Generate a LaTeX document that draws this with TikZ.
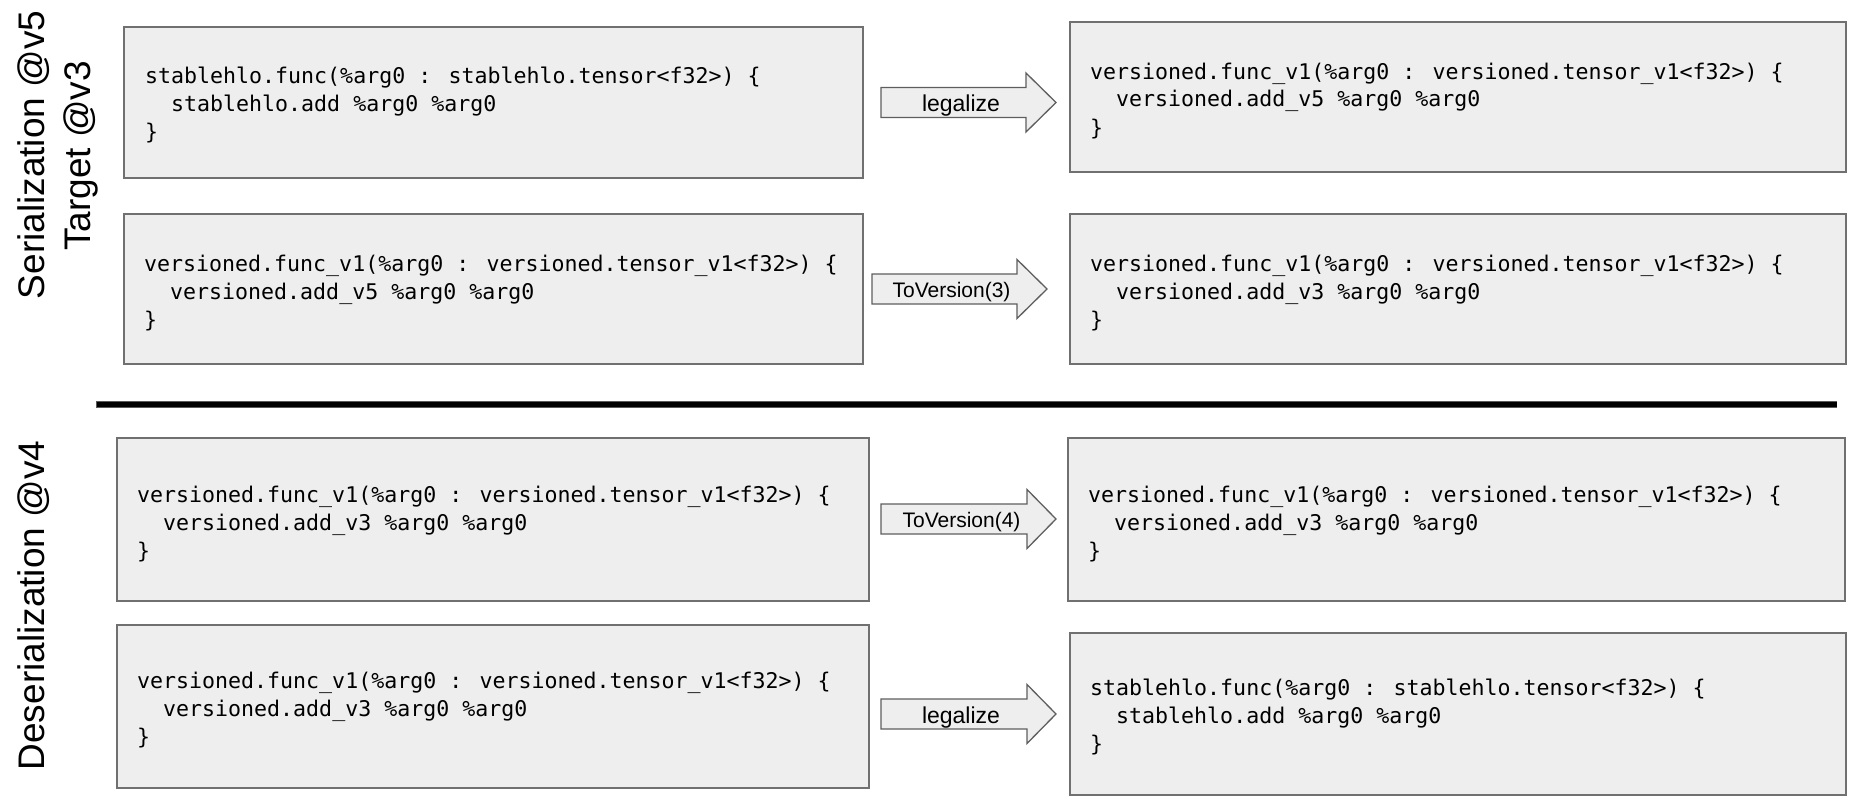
\documentclass[tikz,border=0pt]{standalone}
\usepackage{fontspec}
\setmainfont{Liberation Sans}
\newfontfamily\codefont{DejaVu Sans Mono}

\definecolor{boxfill}{HTML}{EEEEEE}
\definecolor{boxline}{HTML}{707070}
\definecolor{arrowline}{HTML}{5E5E5E}
\definecolor{rulegray}{HTML}{5A5A5A}

% three lines of code, first baseline at the node's base anchor
\newcommand\codelines[3]{\begin{tabular}[t]{@{}l@{}}#1\\#2\\#3\end{tabular}}
\newcommand\ind{\phantom{xx}}

\tikzset{
  codebox/.style={draw=boxline, fill=boxfill, line width=2pt},
  codetext/.style={anchor=base west, inner sep=0pt,
    font=\codefont\fontsize{21.6}{28}\selectfont},
  blockarrow/.style={draw=arrowline, fill=boxfill, line width=1.3pt, line join=miter},
  arrowlabel/.style={anchor=base, inner sep=0pt},
  sidelabel/.style={rotate=90, anchor=base, inner sep=0pt,
    font=\fontsize{37}{44}\selectfont},
}

% block arrow: shaft left x, head base x, tip x, centre y
\newcommand\blockarr[4]{%
  \draw[blockarrow] (#1,#4-15) -- (#2,#4-15) -- (#2,#4-29.5) -- (#3,#4)
    -- (#2,#4+29.5) -- (#2,#4+15) -- (#1,#4+15) -- cycle;}

\begin{document}
\begin{tikzpicture}[x=1pt, y=-1pt]
\useasboundingbox (0,0) rectangle (1858,808);

% side titles
\node[sidelabel] (sertitle) at (44.5,155) {Serialization @v5};
\node[sidelabel] (tgttitle) at (90,156) {Target @v3};
\node[sidelabel] (destitle) at (44.5,605.5) {Deserialization @v4};

% code boxes
\draw[codebox] (124,27) rectangle (863,178);
\draw[codebox] (1070,22) rectangle (1846,172);
\draw[codebox] (124,214) rectangle (863,364);
\draw[codebox] (1070,214) rectangle (1846,364);
\draw[codebox] (117,438) rectangle (869,601);
\draw[codebox] (1068,438) rectangle (1845,601);
\draw[codebox] (117,625) rectangle (869,788);
\draw[codebox] (1070,633) rectangle (1846,795);

% code
\node[codetext] (codeA) at (145,84) {\codelines
  {stablehlo.func(\%arg0 : stablehlo.tensor<f32>) \{}
  {\ind stablehlo.add \%arg0 \%arg0}
  {\}}};
\node[codetext] (codeB) at (1090,79) {\codelines
  {versioned.func\_v1(\%arg0 : versioned.tensor\_v1<f32>) \{}
  {\ind versioned.add\_v5 \%arg0 \%arg0}
  {\}}};
\node[codetext] (codeC) at (144,271) {\codelines
  {versioned.func\_v1(\%arg0 : versioned.tensor\_v1<f32>) \{}
  {\ind versioned.add\_v5 \%arg0 \%arg0}
  {\}}};
\node[codetext] (codeD) at (1090,271) {\codelines
  {versioned.func\_v1(\%arg0 : versioned.tensor\_v1<f32>) \{}
  {\ind versioned.add\_v3 \%arg0 \%arg0}
  {\}}};
\node[codetext] (codeE) at (137,502) {\codelines
  {versioned.func\_v1(\%arg0 : versioned.tensor\_v1<f32>) \{}
  {\ind versioned.add\_v3 \%arg0 \%arg0}
  {\}}};
\node[codetext] (codeF) at (1088,502) {\codelines
  {versioned.func\_v1(\%arg0 : versioned.tensor\_v1<f32>) \{}
  {\ind versioned.add\_v3 \%arg0 \%arg0}
  {\}}};
\node[codetext] (codeG) at (137,688) {\codelines
  {versioned.func\_v1(\%arg0 : versioned.tensor\_v1<f32>) \{}
  {\ind versioned.add\_v3 \%arg0 \%arg0}
  {\}}};
\node[codetext] (codeH) at (1090,695.5) {\codelines
  {stablehlo.func(\%arg0 : stablehlo.tensor<f32>) \{}
  {\ind stablehlo.add \%arg0 \%arg0}
  {\}}};

% block arrows with their pass names
\blockarr{881}{1026}{1056}{102.5}
\node[arrowlabel, font=\fontsize{23}{27}\selectfont] (legal1) at (961,111.5) {legalize};
\blockarr{872}{1017}{1047}{289}
\node[arrowlabel, font=\fontsize{21}{25}\selectfont] (tover3) at (951.5,297) {ToVersion(3)};
\blockarr{881}{1027}{1056}{519}
\node[arrowlabel, font=\fontsize{21}{25}\selectfont] (tover4) at (961.5,527) {ToVersion(4)};
\blockarr{881}{1027}{1056}{714}
\node[arrowlabel, font=\fontsize{23}{27}\selectfont] (legal2) at (961,723) {legalize};

% separator between serialization and deserialization
\draw[line width=7.5pt, rulegray] (96,404.5) -- (1837,404.5);
\draw[line width=5pt, black] (96.5,404.5) -- (1836.5,404.5);
\end{tikzpicture}
\end{document}
